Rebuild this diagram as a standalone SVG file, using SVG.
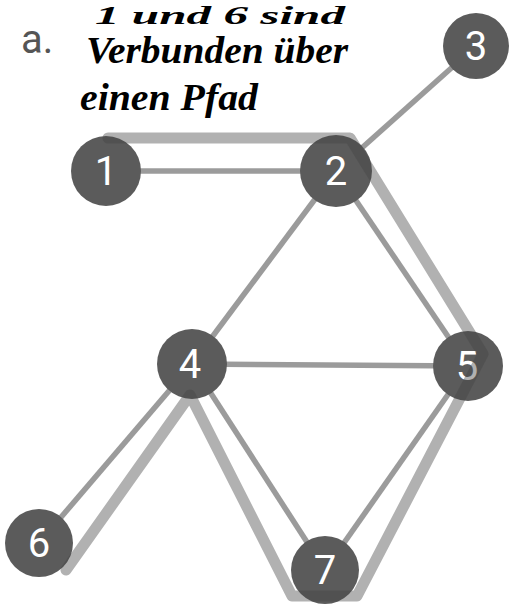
<svg xmlns="http://www.w3.org/2000/svg" width="510" height="607" viewBox="0 0 510 607">
<style>
.edge{stroke:#9b9b9b;stroke-width:5.5;fill:none}
.hl{stroke:#444444;stroke-opacity:0.42;stroke-width:11;fill:none;stroke-linecap:round;stroke-linejoin:round}
.node circle{fill:#5b5b5b}
.node text{fill:#ffffff;font-family:Roboto,"Liberation Sans",sans-serif;font-size:40px;text-anchor:middle}
.hand{fill:#000;font-family:"Liberation Serif",serif;font-style:italic;font-weight:bold;font-size:38px}
</style>
<rect width="510" height="607" fill="#ffffff"/>
<text x="21" y="53" style="font-family:Roboto,'Liberation Sans',sans-serif;font-size:40px;fill:#555">a.</text>
<text class="hand" x="95" y="24" style="font-size:26px" textLength="250" lengthAdjust="spacingAndGlyphs">1 und 6 sind</text>
<text class="hand" x="86" y="63" textLength="262" lengthAdjust="spacingAndGlyphs">Verbunden über</text>
<text class="hand" x="80" y="110" textLength="178" lengthAdjust="spacingAndGlyphs">einen Pfad</text>
<g id="connectors">
<line class="edge" x1="106" y1="171" x2="336" y2="171"/>
<line class="edge" x1="336" y1="171" x2="476" y2="46"/>
<line class="edge" x1="336" y1="171" x2="192" y2="364"/>
<line class="edge" x1="336" y1="171" x2="468" y2="366"/>
<line class="edge" x1="192" y1="364" x2="468" y2="366"/>
<line class="edge" x1="192" y1="364" x2="39" y2="543"/>
<line class="edge" x1="192" y1="364" x2="325" y2="570"/>
<line class="edge" x1="468" y1="366" x2="325" y2="570"/>
</g>
<g id="n1" class="node"><circle cx="106" cy="171" r="35"/><text x="106" y="185">1</text></g>
<g id="n2" class="node"><circle cx="336" cy="171" r="36"/><text x="336" y="185">2</text></g>
<g id="n3" class="node"><circle cx="476" cy="46" r="33"/><text x="476" y="60">3</text></g>
<g id="n4" class="node"><circle cx="192" cy="364" r="35"/><text x="190" y="378">4</text></g>
<g id="n5" class="node"><circle cx="468" cy="366" r="35"/><text x="467" y="380">5</text></g>
<g id="n6" class="node"><circle cx="39" cy="543" r="34"/><text x="39" y="557">6</text></g>
<g id="n7" class="node"><circle cx="325" cy="570" r="34"/><text x="325" y="584">7</text></g>
<path id="highlight" class="hl" d="M108,138 L350,138 L483,354 L357,596 L292,596 L190,395 L66,570"/>
</svg>
